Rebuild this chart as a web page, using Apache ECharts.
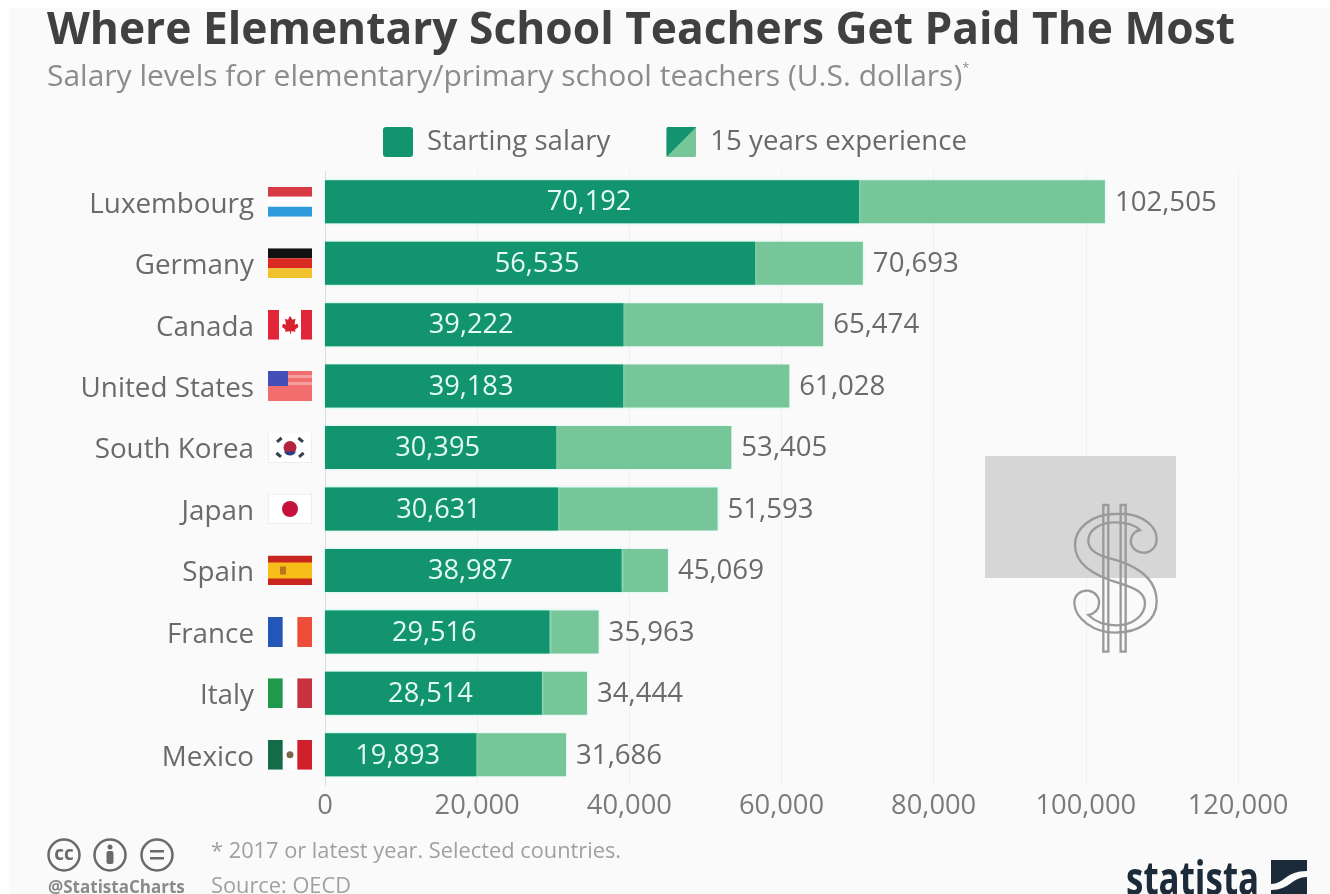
<!DOCTYPE html>
<html>
<head>
<meta charset="utf-8">
<title>Where Elementary School Teachers Get Paid The Most</title>
<script src="https://cdn.jsdelivr.net/npm/echarts@6/dist/echarts.min.js"></script>
<style>
html, body { margin: 0; padding: 0; background: #fff; }
#panel { position: absolute; left: 9px; top: 8px; right: 0; bottom: 0; background: #fafafa; }
#chart { position: absolute; left: 0; top: 0; width: 1330px; height: 894px; }
</style>
</head>
<body>
<div id="panel"></div>
<div id="chart"></div>
<script>
const countries = ['Luxembourg', 'Germany', 'Canada', 'United States', 'South Korea', 'Japan', 'Spain', 'France', 'Italy', 'Mexico'];
const startingSalary = [70192, 56535, 39222, 39183, 30395, 30631, 38987, 29516, 28514, 19893];
const experienced = [102505, 70693, 65474, 61028, 53405, 51593, 45069, 35963, 34444, 31686];
const flagKeys = ['lu', 'de', 'ca', 'us', 'kr', 'jp', 'es', 'fr', 'it', 'mx'];

const DARK = '#12946f';
const LIGHT = '#76c69a';
const HALO = 'rgba(190,250,235,0.9)';
const FONT = '"Open Sans", sans-serif';

function svgUri(w, h, body) {
    return 'data:image/svg+xml;charset=utf-8,' + encodeURIComponent(
        '<svg xmlns="http://www.w3.org/2000/svg" width="' + w + '" height="' + h + '" viewBox="0 0 ' + w + ' ' + h + '">' + body + '</svg>');
}

function bars(colors) {
    return colors.map((c, i) => '<rect x="0" y="' + (i * 10) + '" width="44" height="10" fill="' + c + '"/>').join('');
}
function cols(colors) {
    return colors.map((c, i) => '<rect x="' + (i * 44 / 3) + '" y="0" width="' + (44 / 3 + 0.5) + '" height="30" fill="' + c + '"/>').join('');
}

const flags = {
    lu: bars(['#d63a42', '#ffffff', '#2f9bdc']),
    de: bars(['#111111', '#d92b22', '#f2c12e']),
    ca: '<rect width="44" height="30" fill="#fff"/><rect width="11" height="30" fill="#e2263a"/><rect x="33" width="11" height="30" fill="#e2263a"/><path d="M22 6l2.5 4 3-1-1 6 3-1 1 3-3.5 3 .5 2-4.5-.5V24h-1v-2.5L17 22l.5-2-3.5-3 1-3 3 1-1-6 3 1z" fill="#d8202f"/>',
    us: '<rect width="44" height="30" fill="#f26d6d"/><rect y="4" width="44" height="3" fill="#f7a0a0"/><rect y="11" width="44" height="3" fill="#f7a0a0"/><rect width="20" height="15" fill="#4450b8"/>',
    kr: '<rect width="44" height="30" fill="#fff" stroke="#ddd"/><circle cx="22" cy="15" r="6.5" fill="#b3243f"/><path d="M16 19a6.5 6.5 0 0 0 12 0z" fill="#2c3f85"/><g fill="#33404d"><rect x="8" y="6" width="6" height="3" transform="rotate(-40 11 7)"/><rect x="30" y="6" width="6" height="3" transform="rotate(40 33 7)"/><rect x="8" y="21" width="6" height="3" transform="rotate(40 11 22)"/><rect x="30" y="21" width="6" height="3" transform="rotate(-40 33 22)"/></g>',
    jp: '<rect width="44" height="30" fill="#fff" stroke="#ddd"/><circle cx="22" cy="15" r="8" fill="#c4123c"/>',
    es: '<rect width="44" height="30" fill="#c8261e"/><rect y="7" width="44" height="16" fill="#f7bd19"/><rect x="12" y="11" width="6" height="8" fill="#b9761e"/>',
    fr: cols(['#2456b8', '#ffffff', '#ee4d3a']),
    it: cols(['#1f9a4c', '#ffffff', '#c8323f']),
    mx: cols(['#136b47', '#ffffff', '#d0202c']) + '<circle cx="22" cy="15" r="3.5" fill="#7a6a4a"/>'
};

const richLabels = {
    name: { fontFamily: FONT, fontSize: 27.8, color: '#6a6a6a', padding: [6, 14, 0, 0] }
};
flagKeys.forEach(k => {
    richLabels[k] = { width: 44, height: 30, backgroundColor: { image: svgUri(44, 30, flags[k]) } };
});

const legendStart = 'image://' + svgUri(30, 30, '<rect width="30" height="30" rx="3" fill="' + DARK + '"/>');
const legendExp = 'image://' + svgUri(30, 30, '<rect width="30" height="30" rx="2" fill="' + LIGHT + '"/><path d="M0 30V2a2 2 0 0 1 2-2h28z" fill="' + DARK + '"/>');

// dollar sign outline, traced at 3x from the crop
const dollarSvg = svgUri(240, 230,
    '<g transform="scale(0.3333)" fill="none" stroke="#9a9a9a" stroke-width="7">' +
    '<path d="M500 222C550 228 590 258 590 298C590 325 568 340 548 338C525 336 510 318 513 298C515 282 528 272 540 270C525 255 500 247 465 247C420 247 385 270 385 303C385 330 410 345 450 355C520 372 590 410 590 485C590 540 540 578 465 578C400 578 345 535 343 490C342 465 362 450 385 452C405 455 420 472 417 492C415 510 402 522 385 525C405 545 435 556 470 556C520 556 555 525 555 490C555 460 530 445 480 430C410 410 345 375 345 315C345 265 395 222 465 222Z"/>' +
    '<path d="M430 195H445V635H430ZM482 195H497V635H482Z"/></g>');

const logoSvg = svgUri(36, 34,
    '<rect width="36" height="34" fill="#1c2b3a"/><path d="M0 24C13 24 15 11 36 11L36 17C21 17 19 30 0 30Z" fill="#fafafa"/>');

const chart = echarts.init(document.getElementById('chart'));

chart.setOption({
    backgroundColor: 'transparent',
    animation: false,
    textStyle: { fontFamily: FONT },
    title: {
        text: 'Where Elementary School Teachers Get Paid The Most',
        subtext: 'Salary levels for elementary/primary school teachers (U.S. dollars){s|*}',
        left: 47,
        top: 9,
        padding: 0,
        itemGap: 9,
        textStyle: { fontFamily: FONT, fontSize: 44.3, fontWeight: 700, color: '#404040' },
        subtextStyle: {
            fontFamily: FONT,
            fontSize: 30,
            color: '#8c8c8c',
            rich: { s: { fontSize: 13, color: '#8c8c8c', verticalAlign: 'top', padding: [0, 0, 12, 0] } }
        }
    },
    legend: {
        left: 378,
        top: 122,
        itemWidth: 30,
        itemHeight: 30,
        itemGap: 56,
        textStyle: { fontFamily: FONT, fontSize: 27.6, color: '#6a6a6a', padding: [2, 0, 0, 9] },
        data: [
            { name: 'Starting salary', icon: legendStart },
            { name: '15 years experience', icon: legendExp }
        ]
    },
    grid: { left: 325, top: 171, width: 913, height: 614.5, containLabel: false },
    xAxis: {
        type: 'value',
        min: 0,
        max: 120000,
        interval: 20000,
        axisLine: { show: false },
        axisTick: { show: false },
        axisLabel: { fontSize: 27.3, color: '#7a7a7a', margin: 7, fontFamily: FONT },
        splitLine: { lineStyle: { color: '#f0f0f0', width: 1 } }
    },
    yAxis: {
        type: 'category',
        inverse: true,
        data: countries,
        axisLine: { show: true, lineStyle: { color: '#dcdcdc', width: 1 } },
        axisTick: { show: false },
        axisLabel: {
            margin: 13,
            formatter: (value, i) => '{name|' + value + '}{' + flagKeys[i] + '|}',
            rich: richLabels
        }
    },
    series: [
        {
            name: '15 years experience',
            type: 'bar',
            data: experienced,
            barWidth: 43,
            barGap: '-100%',
            itemStyle: { color: LIGHT, shadowBlur: 3, shadowColor: HALO },
            label: {
                show: true,
                position: 'right',
                distance: 10,
                offset: [0, 1],
                fontFamily: FONT,
                fontSize: 27.6,
                color: '#6a6a6a',
                formatter: p => p.value.toLocaleString('en-US')
            }
        },
        {
            name: 'Starting salary',
            type: 'bar',
            data: startingSalary,
            barWidth: 43,
            itemStyle: { color: DARK, shadowBlur: 3, shadowColor: HALO },
            label: {
                show: true,
                position: 'inside',
                offset: [-3, 1],
                fontFamily: FONT,
                fontSize: 27.2,
                color: '#e4faf3',
                formatter: p => p.value.toLocaleString('en-US')
            }
        }
    ],
    graphic: [
        { type: 'rect', silent: true, z: 5, shape: { x: 985, y: 456, width: 191, height: 122 }, style: { fill: '#d6d6d6' } },
        { type: 'image', silent: true, z: 6, style: { image: dollarSvg, x: 960, y: 440, width: 240, height: 230 } },

        // licence icons
        { type: 'circle', shape: { cx: 64, cy: 855, r: 15.5 }, style: { fill: '#fafafa', stroke: '#6a6a6a', lineWidth: 2.5 } },
        { type: 'text', x: 64, y: 855, style: { text: 'cc', fontFamily: FONT, fontSize: 19, fontWeight: 700, fill: '#6a6a6a', align: 'center', verticalAlign: 'middle' } },
        { type: 'circle', shape: { cx: 110, cy: 855, r: 15.5 }, style: { fill: '#fafafa', stroke: '#6a6a6a', lineWidth: 2.5 } },
        { type: 'circle', shape: { cx: 110, cy: 847, r: 2.5 }, style: { fill: '#6a6a6a' } },
        { type: 'rect', shape: { x: 106.5, y: 851, width: 7, height: 13, r: 2 }, style: { fill: '#6a6a6a' } },
        { type: 'circle', shape: { cx: 157, cy: 855, r: 15.5 }, style: { fill: '#fafafa', stroke: '#6a6a6a', lineWidth: 2.5 } },
        { type: 'rect', shape: { x: 150, y: 850, width: 14, height: 2.5 }, style: { fill: '#6a6a6a' } },
        { type: 'rect', shape: { x: 150, y: 857, width: 14, height: 2.5 }, style: { fill: '#6a6a6a' } },

        // footer text
        { type: 'text', x: 48, y: 888, style: { text: '@StatistaCharts', fontFamily: FONT, fontSize: 17, fontWeight: 700, fill: '#8a8a8a', verticalAlign: 'middle' } },
        { type: 'text', x: 211, y: 852, style: { text: '* 2017 or latest year. Selected countries.', fontFamily: FONT, fontSize: 21.8, fill: '#a0a0a0', verticalAlign: 'middle' } },
        { type: 'text', x: 211, y: 887, style: { text: 'Source: OECD', fontFamily: FONT, fontSize: 21.8, fill: '#a0a0a0', verticalAlign: 'middle' } },

        // statista logo
        { type: 'text', x: 1126, y: 882, scaleX: 0.76, style: { text: 'statista', fontFamily: FONT, fontSize: 46, fontWeight: 700, fill: '#1c2b3a', verticalAlign: 'middle' } },
        { type: 'image', style: { image: logoSvg, x: 1271, y: 860, width: 36, height: 34 } }
    ]
});
</script>
</body>
</html>
